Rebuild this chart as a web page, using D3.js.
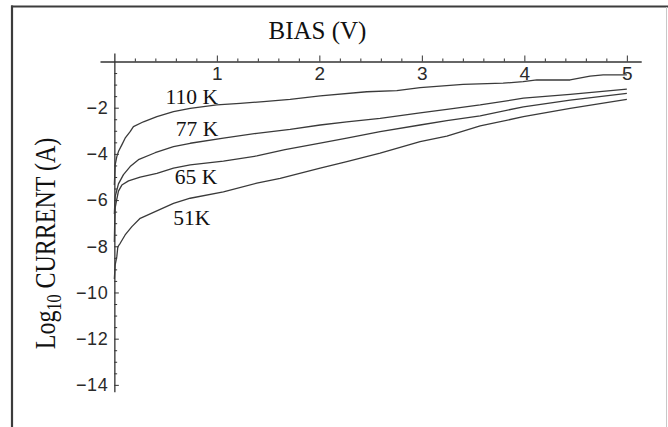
<!DOCTYPE html>
<html>
<head>
<meta charset="utf-8">
<script src="https://cdn.jsdelivr.net/npm/d3@7"></script>
<style>
  html, body { margin: 0; padding: 0; background: #ffffff; }
  svg { display: block; }
</style>
</head>
<body>
<svg id="chart" width="668" height="427"></svg>
<script>
// Bias voltage (V) and log10 current (A) for each temperature
const bias110 = [0, 0.008, 0.024, 0.04, 0.073, 0.105, 0.154, 0.186, 0.284, 0.415, 0.577, 0.74, 1.0, 1.227, 1.455, 1.715, 2.008, 2.463, 2.756, 2.983, 3.403, 3.793, 3.988, 4.122, 4.446, 4.641, 4.769, 5.0];
const logI110 = [-5.35, -4.48, -4.12, -3.90, -3.61, -3.32, -3.04, -2.82, -2.61, -2.39, -2.17, -2.03, -1.88, -1.81, -1.74, -1.64, -1.49, -1.31, -1.26, -1.13, -0.99, -0.94, -0.87, -0.80, -0.80, -0.63, -0.58, -0.58];

const bias77 = [0, 0.004, 0.008, 0.04, 0.089, 0.154, 0.235, 0.398, 0.577, 0.74, 1.064, 1.39, 1.715, 2.008, 2.268, 2.593, 2.983, 3.244, 3.569, 3.991, 4.447, 5.0];
const logI77 = [-6.6, -6.21, -5.85, -5.3, -4.9, -4.55, -4.25, -3.95, -3.69, -3.54, -3.32, -3.11, -2.94, -2.75, -2.61, -2.46, -2.22, -2.07, -1.88, -1.59, -1.42, -1.20];

const bias65 = [0, 0.003, 0.008, 0.022, 0.04, 0.073, 0.138, 0.252, 0.415, 0.577, 0.74, 1.064, 1.39, 1.665, 2.008, 2.268, 2.593, 2.983, 3.244, 3.569, 3.991, 4.447, 5.0];
const logI65 = [-7.81, -7.08, -6.34, -6.0, -5.61, -5.35, -5.17, -5.01, -4.84, -4.62, -4.48, -4.31, -4.09, -3.82, -3.53, -3.32, -3.04, -2.75, -2.56, -2.35, -1.96, -1.67, -1.38];

const bias51 = [0, 0.008, 0.024, 0.034, 0.057, 0.105, 0.171, 0.252, 0.398, 0.577, 0.74, 1.064, 1.39, 1.618, 2.008, 2.268, 2.593, 2.983, 3.244, 3.569, 3.991, 4.447, 5.0];
const logI51 = [-9.42, -8.81, -8.45, -8.02, -7.87, -7.51, -7.15, -6.79, -6.50, -6.14, -5.92, -5.64, -5.27, -5.06, -4.62, -4.34, -3.97, -3.47, -3.23, -2.79, -2.39, -2.03, -1.64];

const curveNames = ["110 K", "77 K", "65 K", "51K"];
const xTickValues = [1, 2, 3, 4, 5];
const yTickValues = [-2, -4, -6, -8, -10, -12, -14];

const svg = d3.select("#chart");
const ink = "#333333";

// outer frame
svg.append("line").attr("x1", 11).attr("x2", 668).attr("y1", 6.5).attr("y2", 6.5)
  .attr("stroke", "#3c3c3c").attr("stroke-width", 2.2);
svg.append("line").attr("x1", 12).attr("x2", 12).attr("y1", 5.5).attr("y2", 427)
  .attr("stroke", "#3c3c3c").attr("stroke-width", 2.2);
svg.append("line").attr("x1", 666.5).attr("x2", 666.5).attr("y1", 7).attr("y2", 427)
  .attr("stroke", "#c8c8c8").attr("stroke-width", 1);

// scales: axes cross at the origin
const x = d3.scaleLinear().domain([-0.14, 5.14]).range([100, 641.2]);
const y = d3.scaleLinear().domain([0.37, -14.3]).range([52.95, 391.8]);

const minorX = d3.range(1, 26).map(i => i * 0.2).filter(v => Math.abs(v - Math.round(v)) > 1e-6);
const minorY = d3.range(1, 29).map(i => -i * 0.5).filter(v => Math.abs(v / 2 - Math.round(v / 2)) > 1e-6);

// horizontal axis along y = 0
const gx = svg.append("g").attr("transform", `translate(0,${y(0)})`).style("color", ink);
gx.call(d3.axisBottom(x).tickValues(xTickValues).tickSize(-6).tickSizeOuter(0).tickPadding(4)
  .tickFormat(d3.format("d")));
gx.append("g").call(d3.axisBottom(x).tickValues(minorX).tickSize(-3).tickSizeOuter(0).tickFormat(""))
  .select(".domain").remove();
gx.selectAll("path.domain").attr("stroke-width", 1.3);
gx.selectAll(".tick line").attr("stroke-width", 1);
gx.selectAll(".tick text")
  .attr("font-family", "'Liberation Sans', Arial, sans-serif")
  .attr("font-size", 19).attr("fill", "#2a2a2a").attr("dy", "0.75em");

// vertical axis along x = 0
const gy = svg.append("g").attr("transform", `translate(${x(0)},0)`).style("color", ink);
gy.call(d3.axisLeft(y).tickValues(yTickValues).tickSize(-4.5).tickSizeOuter(0).tickPadding(6)
  .tickFormat(d => "\u2212" + Math.abs(d)));
gy.append("g").call(d3.axisLeft(y).tickValues(minorY).tickSize(-2.8).tickSizeOuter(0).tickFormat(""))
  .select(".domain").remove();
gy.selectAll("path.domain").attr("stroke-width", 1.3);
gy.selectAll(".tick line").attr("stroke-width", 1);
gy.selectAll(".tick text")
  .attr("font-family", "'Liberation Sans', Arial, sans-serif")
  .attr("font-size", 18).attr("letter-spacing", 0.6).attr("fill", "#2a2a2a");

// curves
const series = [
  [bias110, logI110],
  [bias77, logI77],
  [bias65, logI65],
  [bias51, logI51]
].map(([v, c]) => v.map((d, i) => [d, c[i]]));

const line = d3.line().x(d => x(d[0])).y(d => y(d[1]));
svg.append("g").selectAll("path").data(series).join("path")
  .attr("d", line)
  .attr("fill", "none")
  .attr("stroke", "#3a3a3a")
  .attr("stroke-width", 1.3)
  .attr("stroke-linejoin", "round");

// curve labels, placed in data units
const labelPos = [[0.5, -1.85], [0.6, -3.23], [0.59, -5.3], [0.575, -7.07]];
svg.append("g").selectAll("text").data(curveNames).join("text")
  .attr("x", (d, i) => x(labelPos[i][0]))
  .attr("y", (d, i) => y(labelPos[i][1]))
  .attr("font-family", "'Liberation Serif', 'Times New Roman', serif")
  .attr("font-size", 21.5)
  .attr("fill", "#111")
  .text(d => d);

// axis titles
svg.append("text")
  .attr("x", 317.5).attr("y", 38.5)
  .attr("text-anchor", "middle")
  .attr("font-family", "'Liberation Serif', 'Times New Roman', serif")
  .attr("font-size", 25).attr("fill", "#111")
  .text("BIAS (V)");

const yTitle = svg.append("text")
  .attr("transform", "translate(55,243.5) rotate(-90) scale(1,1.25)")
  .attr("text-anchor", "middle")
  .attr("font-family", "'Liberation Serif', 'Times New Roman', serif")
  .attr("font-size", 24).attr("fill", "#111");
yTitle.append("tspan").text("Log");
yTitle.append("tspan").attr("font-size", 16).attr("dy", 5).text("10");
yTitle.append("tspan").attr("dy", -5).text(" CURRENT (A)");
</script>
</body>
</html>
